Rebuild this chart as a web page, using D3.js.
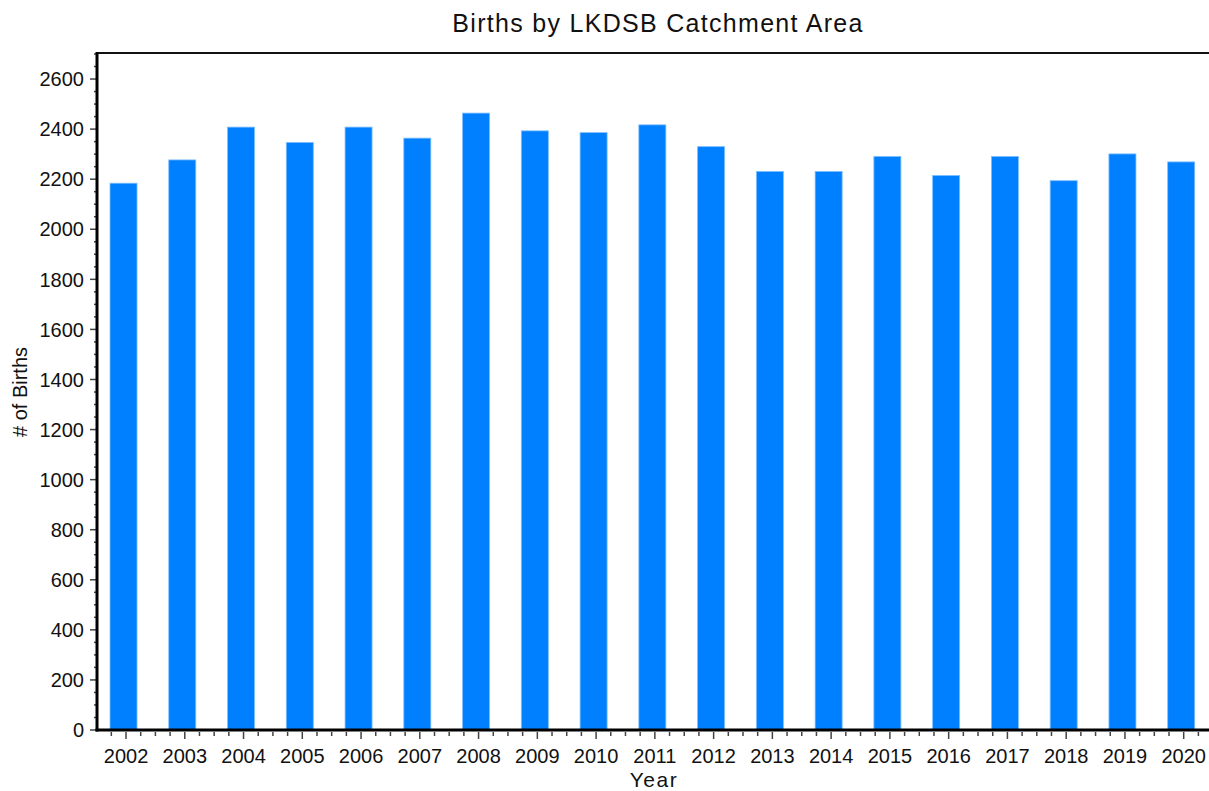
<!DOCTYPE html>
<html lang="en">
<head>
  <meta charset="utf-8">
  <title>Births by LKDSB Catchment Area</title>
  <script src="https://d3js.org/d3.v7.min.js"></script>
  <style>
    body { margin: 0; background: #fff; }
    text { font-family: "Liberation Sans", Arial, sans-serif; fill: #111; }
  </style>
</head>
<body>
<div id="chart"></div>
<script>
  // data
  var years = ["2002", "2003", "2004", "2005", "2006", "2007", "2008", "2009", "2010", "2011",
    "2012", "2013", "2014", "2015", "2016", "2017", "2018", "2019", "2020"];
  var births = [2184, 2277, 2408, 2347, 2408, 2364, 2464, 2393, 2386, 2417,
    2330, 2231, 2231, 2291, 2215, 2291, 2194, 2301, 2269];
  var yTicks = [0, 200, 400, 600, 800, 1000, 1200, 1400, 1600, 1800, 2000, 2200, 2400, 2600];

  var W = 1209, H = 791;
  var plotLeft = 97, plotBottom = 730, plotTop = 54;

  var svg = d3.select("#chart").append("svg")
    .attr("width", W)
    .attr("height", H);

  // x: band scale, plot runs off the right edge like the reference
  var step = 58.76;
  var x = d3.scaleBand()
    .domain(years)
    .range([98.25, 98.25 + step * (years.length - 0.54 + 0.4)])
    .paddingInner(0.54)
    .paddingOuter(0.2);

  var y = d3.scaleLinear()
    .domain([0, 2700])
    .range([plotBottom, plotTop]);

  // bars
  svg.append("g").selectAll("rect")
    .data(births)
    .enter().append("rect")
    .attr("x", function (d, i) { return x(years[i]); })
    .attr("y", function (d) { return y(d); })
    .attr("width", x.bandwidth())
    .attr("height", function (d) { return y(0) - y(d); })
    .attr("fill", "#0080ff")
    .attr("stroke", "#7fbfff")
    .attr("stroke-width", 0.8);

  // y axis: labels every 200, minor ticks every 50
  var yAxis = svg.append("g");
  var minor = d3.range(0, 2701, 50);
  yAxis.selectAll("line")
    .data(minor)
    .enter().append("line")
    .attr("x1", function (d) { return d % 200 === 0 ? 90 : 94; })
    .attr("x2", 97)
    .attr("y1", function (d) { return y(d); })
    .attr("y2", function (d) { return y(d); })
    .attr("stroke", "#444")
    .attr("stroke-width", 1.5);
  yAxis.selectAll("text")
    .data(yTicks)
    .enter().append("text")
    .attr("x", 84)
    .attr("y", function (d) { return y(d); })
    .attr("dy", "0.36em")
    .attr("text-anchor", "end")
    .style("font-size", "20px")
    .text(function (d) { return d; });

  // x axis ticks: major under each year, three minor between
  var xt = [];
  years.forEach(function (yr, i) {
    var c = x(yr) + x.bandwidth() / 2 + 2.5;
    if (i === 0) xt.push({ p: c - step / 4, major: false });
    xt.push({ p: c, major: true });
    for (var k = 1; k < 4; k++) xt.push({ p: c + k * step / 4, major: false });
  });
  var xAxis = svg.append("g");
  xAxis.selectAll("line")
    .data(xt)
    .enter().append("line")
    .attr("x1", function (d) { return d.p; })
    .attr("x2", function (d) { return d.p; })
    .attr("y1", plotBottom + 2)
    .attr("y2", function (d) { return d.major ? plotBottom + 9 : plotBottom + 6; })
    .attr("stroke", "#444")
    .attr("stroke-width", 1.5);
  xAxis.selectAll("text")
    .data(years)
    .enter().append("text")
    .attr("x", function (d) { return x(d) + x.bandwidth() / 2 + 2.5; })
    .attr("y", 763)
    .attr("text-anchor", "middle")
    .style("font-size", "20px")
    .text(function (d) { return d; });

  // frame: thick left and bottom axes, top border
  svg.append("line")
    .attr("x1", plotLeft).attr("x2", W + 5)
    .attr("y1", plotTop - 1).attr("y2", plotTop - 1)
    .attr("stroke", "#111").attr("stroke-width", 2);
  svg.append("line")
    .attr("x1", plotLeft).attr("x2", plotLeft)
    .attr("y1", plotTop - 2).attr("y2", plotBottom + 1.5)
    .attr("stroke", "#000").attr("stroke-width", 3);
  svg.append("line")
    .attr("x1", plotLeft - 1.5).attr("x2", W + 5)
    .attr("y1", plotBottom).attr("y2", plotBottom)
    .attr("stroke", "#000").attr("stroke-width", 3);

  // titles
  svg.append("text")
    .attr("x", 658)
    .attr("y", 32)
    .attr("text-anchor", "middle")
    .style("font-size", "25px")
    .style("letter-spacing", "1.3px")
    .text("Births by LKDSB Catchment Area");

  svg.append("text")
    .attr("x", 654)
    .attr("y", 787)
    .attr("text-anchor", "middle")
    .style("font-size", "21px")
    .style("letter-spacing", "1.5px")
    .text("Year");

  svg.append("text")
    .attr("transform", "translate(27,392) rotate(-90)")
    .attr("text-anchor", "middle")
    .style("font-size", "20px")
    .text("# of Births");
</script>
</body>
</html>
